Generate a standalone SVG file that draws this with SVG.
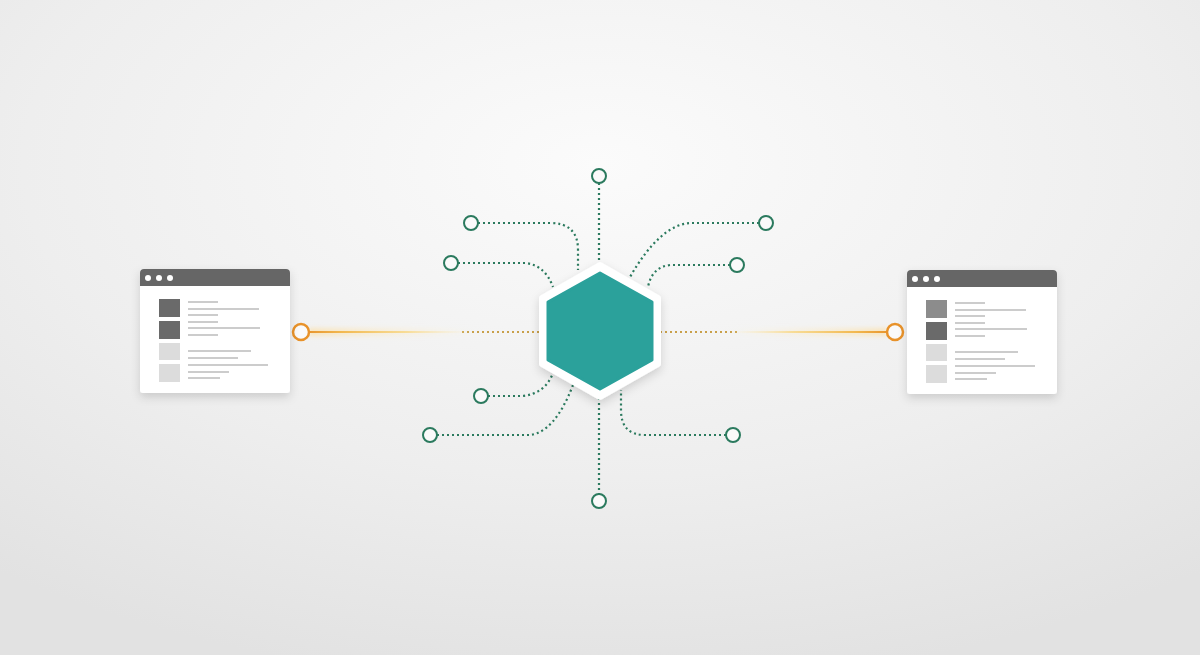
<svg xmlns="http://www.w3.org/2000/svg" width="1200" height="655" viewBox="0 0 1200 655">
<defs>
<radialGradient id="bg" cx="0.5" cy="0.25" r="0.8">
<stop offset="0" stop-color="#fbfbfb"/>
<stop offset="0.6" stop-color="#eeeeee"/>
<stop offset="1" stop-color="#e2e2e2"/>
</radialGradient>
<linearGradient id="lineL" gradientUnits="userSpaceOnUse" x1="309" y1="0" x2="470" y2="0">
<stop offset="0" stop-color="#e8962f"/>
<stop offset="0.2" stop-color="#f2b850"/>
<stop offset="0.6" stop-color="#f8d888" stop-opacity="0.85"/>
<stop offset="1" stop-color="#fcecc0" stop-opacity="0"/>
</linearGradient>
<linearGradient id="lineR" gradientUnits="userSpaceOnUse" x1="887" y1="0" x2="730" y2="0">
<stop offset="0" stop-color="#e8962f"/>
<stop offset="0.2" stop-color="#f2b850"/>
<stop offset="0.6" stop-color="#f8d888" stop-opacity="0.85"/>
<stop offset="1" stop-color="#fcecc0" stop-opacity="0"/>
</linearGradient>
<linearGradient id="haloL" x1="0" y1="0" x2="1" y2="0">
<stop offset="0" stop-color="#ffd88a" stop-opacity="0.5"/>
<stop offset="1" stop-color="#fff1c8" stop-opacity="0"/>
</linearGradient>
<linearGradient id="haloR" x1="1" y1="0" x2="0" y2="0">
<stop offset="0" stop-color="#ffd88a" stop-opacity="0.5"/>
<stop offset="1" stop-color="#fff1c8" stop-opacity="0"/>
</linearGradient>
<filter id="sh" x="-20%" y="-20%" width="140%" height="150%">
<feDropShadow dx="0" dy="4" stdDeviation="5" flood-color="#000" flood-opacity="0.15"/>
</filter>
<filter id="blur" x="-10%" y="-300%" width="120%" height="700%">
<feGaussianBlur stdDeviation="2"/>
</filter>
</defs>
<style>
.dot{fill:none;stroke:#2b7a5e;stroke-width:2.2;stroke-dasharray:2 3}
.node{fill:#fafafa;stroke:#2b7a5e;stroke-width:2}
.odot{fill:none;stroke:#c9a04a;stroke-width:2;stroke-dasharray:2 3}
.oc{fill:#fafafa;stroke:#e8922a;stroke-width:2.5}
.win{fill:#ffffff}
.bar{fill:#666666}
.wd{fill:#ffffff}
.sqd{fill:#6a6a6a}
.sqm{fill:#8c8c8c}
.sql{fill:#dcdcdc}
.ln{fill:#cccccc}
</style>
<rect width="1200" height="655" fill="url(#bg)"/>

<g id="connectors">
<path class="dot" d="M599 183 V262"/>
<path class="dot" d="M599 398 V494"/>
<path class="dot" d="M478 223 H550 Q578 223 578 250 V270"/>
<path class="dot" d="M458 263 H525 Q545 265 553 287"/>
<path class="dot" d="M759 223 H690 Q660 225 630 277"/>
<path class="dot" d="M730 265 H670 Q652 267 648 287"/>
<path class="dot" d="M488 396 H522 Q545 394 553 373"/>
<path class="dot" d="M437 435 H530 Q555 432 573 385"/>
<path class="dot" d="M726 435 H645 Q621 435 621 410 V390"/>
<path class="odot" d="M462 332 H540"/>
<path class="odot" d="M660 332 H740"/>
<rect x="309" y="328" width="170" height="8" fill="url(#haloL)" filter="url(#blur)"/>
<line x1="309" y1="332" x2="470" y2="332" stroke="url(#lineL)" stroke-width="2"/>
<rect x="725" y="328" width="162" height="8" fill="url(#haloR)" filter="url(#blur)"/>
<line x1="730" y1="332" x2="887" y2="332" stroke="url(#lineR)" stroke-width="2"/>
</g>

<g id="hub">
<polygon points="600,265 658,298 658,364 600,397 542,364 542,298" fill="#ffffff" stroke="#ffffff" stroke-width="6" stroke-linejoin="round" filter="url(#sh)"/>
<polygon points="600,273 652,302 652,360 600,389 548,360 548,302" fill="#2ba19b" stroke="#2ba19b" stroke-width="3" stroke-linejoin="round"/>
</g>

<g id="n-top"><circle class="node" cx="599" cy="176" r="7"/></g>
<g id="n-l1"><circle class="node" cx="471" cy="223" r="7"/></g>
<g id="n-l2"><circle class="node" cx="451" cy="263" r="7"/></g>
<g id="n-r1"><circle class="node" cx="766" cy="223" r="7"/></g>
<g id="n-r2"><circle class="node" cx="737" cy="265" r="7"/></g>
<g id="n-bl1"><circle class="node" cx="481" cy="396" r="7"/></g>
<g id="n-bl2"><circle class="node" cx="430" cy="435" r="7"/></g>
<g id="n-br"><circle class="node" cx="733" cy="435" r="7"/></g>
<g id="n-bottom"><circle class="node" cx="599" cy="501" r="7"/></g>

<g id="port-left"><circle class="oc" cx="301" cy="332" r="8"/></g>
<g id="port-right"><circle class="oc" cx="895" cy="332" r="8"/></g>

<g id="window-left">
<rect class="win" x="140" y="269" width="150" height="124" rx="3" filter="url(#sh)"/>
<path class="bar" d="M140 286 V273 Q140 269 144 269 H286 Q290 269 290 273 V286 Z"/>
<circle class="wd" cx="148" cy="278" r="3"/>
<circle class="wd" cx="159" cy="278" r="3"/>
<circle class="wd" cx="170" cy="278" r="3"/>
<rect class="sqd" x="159" y="299" width="21" height="18"/>
<rect class="sqd" x="159" y="321" width="21" height="18"/>
<rect class="sql" x="159" y="343" width="21" height="17"/>
<rect class="sql" x="159" y="364" width="21" height="18"/>
<rect class="ln" x="188" y="301" width="30" height="2"/>
<rect class="ln" x="188" y="308" width="71" height="2"/>
<rect class="ln" x="188" y="314" width="30" height="2"/>
<rect class="ln" x="188" y="321" width="30" height="2"/>
<rect class="ln" x="188" y="327" width="72" height="2"/>
<rect class="ln" x="188" y="334" width="30" height="2"/>
<rect class="ln" x="188" y="350" width="63" height="2"/>
<rect class="ln" x="188" y="357" width="50" height="2"/>
<rect class="ln" x="188" y="364" width="80" height="2"/>
<rect class="ln" x="188" y="371" width="41" height="2"/>
<rect class="ln" x="188" y="377" width="32" height="2"/>
</g>

<g id="window-right">
<rect class="win" x="907" y="270" width="150" height="124" rx="3" filter="url(#sh)"/>
<path class="bar" d="M907 287 V274 Q907 270 911 270 H1053 Q1057 270 1057 274 V287 Z"/>
<circle class="wd" cx="915" cy="279" r="3"/>
<circle class="wd" cx="926" cy="279" r="3"/>
<circle class="wd" cx="937" cy="279" r="3"/>
<rect class="sqm" x="926" y="300" width="21" height="18"/>
<rect class="sqd" x="926" y="322" width="21" height="18"/>
<rect class="sql" x="926" y="344" width="21" height="17"/>
<rect class="sql" x="926" y="365" width="21" height="18"/>
<rect class="ln" x="955" y="302" width="30" height="2"/>
<rect class="ln" x="955" y="309" width="71" height="2"/>
<rect class="ln" x="955" y="315" width="30" height="2"/>
<rect class="ln" x="955" y="322" width="30" height="2"/>
<rect class="ln" x="955" y="328" width="72" height="2"/>
<rect class="ln" x="955" y="335" width="30" height="2"/>
<rect class="ln" x="955" y="351" width="63" height="2"/>
<rect class="ln" x="955" y="358" width="50" height="2"/>
<rect class="ln" x="955" y="365" width="80" height="2"/>
<rect class="ln" x="955" y="372" width="41" height="2"/>
<rect class="ln" x="955" y="378" width="32" height="2"/>
</g>
</svg>
